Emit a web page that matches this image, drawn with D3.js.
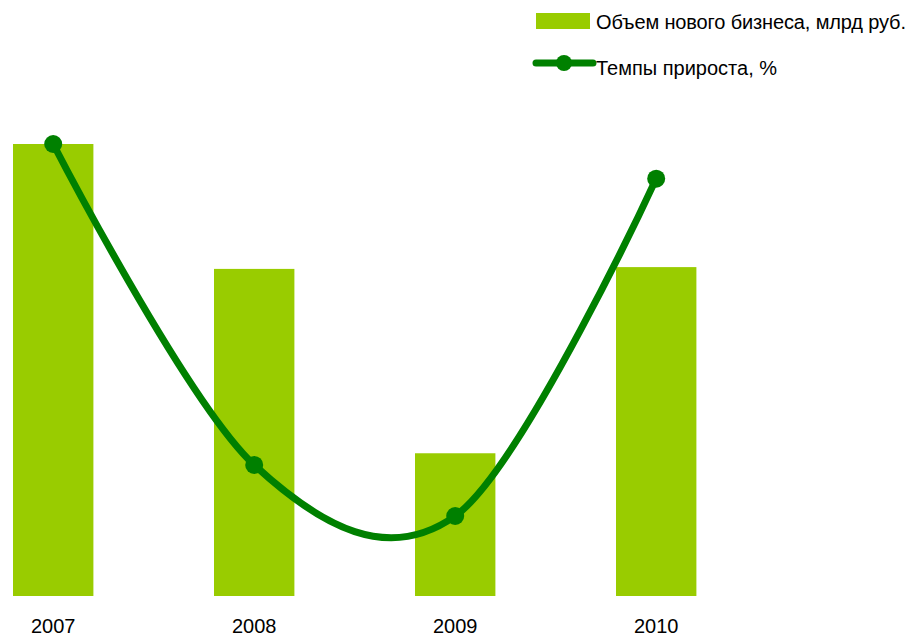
<!DOCTYPE html>
<html><head><meta charset="utf-8">
<script src="https://cdn.jsdelivr.net/npm/d3@7"></script>
<style>html,body{margin:0;padding:0;background:#fff;} text{font-family:"Liberation Sans",Arial,sans-serif;}</style>
</head><body>
<svg id="c" width="912" height="639"></svg>
<script>
const years = ["2007","2008","2009","2010"];
const volume = [760, 550, 240, 553];      // Объем нового бизнеса, млрд руб.
const growth = [148, -28, -56, 129];      // Темпы прироста, %
const legendLabels = ["Объем нового бизнеса, млрд руб.", "Темпы прироста, %"];

const barColor = "#99cc00", lineColor = "#008000";
const svg = d3.select("#c");

const x = d3.scaleBand().domain(years).range([-47.3, 756.7]).paddingInner(0.6).paddingOuter(0.3);
const yBar = d3.scaleLinear().domain([0, 760]).range([596, 144]);
const yLine = d3.scaleLinear().domain([-56, 148]).range([516, 144]);

svg.selectAll("rect.bar").data(years).join("rect").attr("class","bar")
  .attr("x", d => x(d)).attr("width", x.bandwidth())
  .attr("y", (d,i) => yBar(volume[i])).attr("height", (d,i) => yBar(0) - yBar(volume[i]))
  .attr("fill", barColor);

const pts = years.map((d,i) => [x(d) + x.bandwidth()/2, yLine(growth[i])]);
svg.append("path").attr("d", d3.line().curve(d3.curveCardinal.tension(0))(pts))
  .attr("fill","none").attr("stroke", lineColor).attr("stroke-width", 7).attr("stroke-linecap","round");
svg.selectAll("circle.pt").data(pts).join("circle").attr("class","pt")
  .attr("cx", d => d[0]).attr("cy", d => d[1]).attr("r", 9).attr("fill", lineColor);

const xAxis = svg.append("g").attr("transform","translate(0,596)")
  .call(d3.axisBottom(x).tickSize(0).tickPadding(23));
xAxis.select(".domain").remove();
xAxis.selectAll("text").attr("font-size", 20).attr("fill","#000")
  .style("font-family","'Liberation Sans',Arial,sans-serif");

// legend
const lg = svg.append("g");
lg.append("rect").attr("x",536).attr("y",13).attr("width",54).attr("height",16).attr("fill",barColor);
lg.append("text").attr("x",596).attr("y",29).attr("font-size",20).attr("textLength",310).text(legendLabels[0]);
lg.append("line").attr("x1",536).attr("x2",593).attr("y1",63).attr("y2",63)
  .attr("stroke",lineColor).attr("stroke-width",7).attr("stroke-linecap","round");
lg.append("circle").attr("cx",564).attr("cy",63).attr("r",8).attr("fill",lineColor);
lg.append("text").attr("x",596).attr("y",75).attr("font-size",20).text(legendLabels[1]);
</script>
</body></html>
